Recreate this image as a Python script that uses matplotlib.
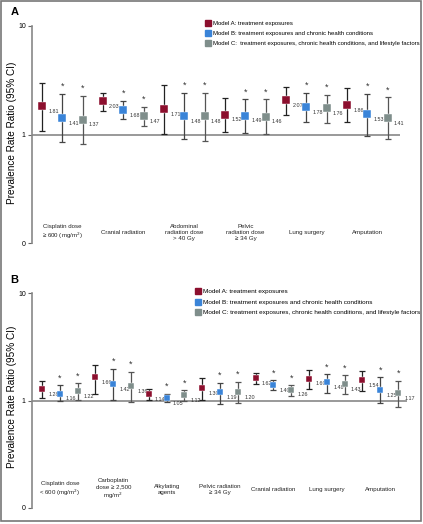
import numpy as np
import matplotlib
matplotlib.use('Agg')
import matplotlib.pyplot as plt
from matplotlib.lines import Line2D
from matplotlib.patches import Rectangle

plt.rcParams['font.family'] = ['Liberation Sans', 'DejaVu Sans']

# Panel A data (model A, B, C per exposure)
cats_a = ['Cisplatin dose\n\u2265 600 (mg/m$^2$)', 'Cranial radiation',
          'Abdominal\nradiation dose\n> 40 Gy', 'Pelvic\nradiation dose\n\u2265 34 Gy',
          'Lung surgery', 'Amputation']
est_a = [1.81, 1.41, 1.37, 2.03, 1.68, 1.47, 1.71, 1.48, 1.48,
         1.52, 1.49, 1.46, 2.07, 1.78, 1.76, 1.86, 1.53, 1.41]
lo_a = [1.08, 0.86, 0.82, 1.66, 1.40, 1.20, 1.02, 0.90, 0.88,
        1.06, 1.04, 1.02, 1.51, 1.30, 1.28, 1.31, 0.97, 0.90]
hi_a = [2.97, 2.36, 2.28, 2.42, 2.05, 1.80, 2.83, 2.42, 2.42,
        2.17, 2.11, 2.11, 2.75, 2.41, 2.32, 2.66, 2.37, 2.20]

# Panel B data
cats_b = ['Cisplatin dose\n< 600 (mg/m$^2$)', 'Carboplatin\ndose \u2265 2,500\nmg/m$^2$',
          'Alkylating\nagents', 'Pelvic radiation\n\u2265 34 Gy', 'Cranial radiation',
          'Lung surgery', 'Amputation']
est_b = [1.28, 1.16, 1.22, 1.66, 1.42, 1.36, 1.14, 1.05, 1.12, 1.30, 1.19, 1.20,
         1.62, 1.40, 1.26, 1.60, 1.48, 1.43, 1.54, 1.25, 1.17]
lo_b = [1.06, 0.98, 1.01, 1.14, 1.01, 0.96, 1.01, 0.97, 1.00, 1.02, 0.93, 0.94,
        1.43, 1.24, 1.10, 1.29, 1.18, 1.16, 1.22, 0.94, 0.87]
hi_b = [1.53, 1.39, 1.44, 2.12, 1.97, 1.86, 1.28, 1.15, 1.24, 1.61, 1.47, 1.50,
        1.81, 1.55, 1.38, 1.91, 1.75, 1.72, 1.88, 1.65, 1.53]

models = ['Model A: treatment exposures',
          'Model B: treatment exposures and chronic health conditions',
          'Model C:  treatment exposures, chronic health conditions, and lifestyle factors']
colors = ['#8c0f2e', '#3a84d8', '#7f8e8b']
bar_colors = ['#222222', '#444444', '#555555']

fig = plt.figure(figsize=(4.23, 5.24), dpi=100)
W, H = 423.0, 524.0


def panel(rect, cats, est, lo, hi, xlim, msize, label_y, legend_pos, legend_models, lfs):
    ax = fig.add_axes(rect)
    n = len(est)
    x = np.arange(n)
    ax.set_yscale('log')
    ax.set_ylim(0.1, 10)
    ax.set_xlim(*xlim)
    ax.axhline(1, color='#888888', lw=1.2, zorder=1)
    for i in range(n):
        m = i % 3
        ax.errorbar(x[i], est[i], yerr=[[est[i] - lo[i]], [hi[i] - est[i]]],
                    fmt='none', ecolor=bar_colors[m], elinewidth=0.9,
                    capsize=2, capthick=0.9, zorder=2)
        ax.plot(x[i], est[i], 's', color=colors[m], ms=msize, mec='white',
                mew=0.3, zorder=3)
        ax.annotate('%.2f' % est[i], (x[i], est[i]), xytext=(4.5, -2),
                    textcoords='offset points', fontsize=3.9, ha='left',
                    va='top', color='#333333')
        if m > 0:
            ax.annotate('*', (x[i], hi[i]), xytext=(0, 2),
                        textcoords='offset points', fontsize=6.5,
                        ha='center', va='bottom', color='#333333')
    for g, c in enumerate(cats):
        ax.text(3 * g + 1, label_y, c, transform=ax.get_xaxis_transform(),
                ha='center', va='center', fontsize=4.4, color='#222222',
                linespacing=1.25)
    ax.set_yticks([0.1, 1, 10])
    ax.set_yticklabels(['0', '1', '10'])
    ax.yaxis.set_minor_locator(matplotlib.ticker.NullLocator())
    ax.tick_params(axis='y', labelsize=5, length=3, width=0.8,
                   color='#666666', pad=1.5)
    ax.set_xticks([])
    for s in ['top', 'right', 'bottom']:
        ax.spines[s].set_visible(False)
    ax.spines['left'].set_color('#888888')
    ax.spines['left'].set_linewidth(1.2)
    handles = [Line2D([], [], marker='s', ls='none', color=colors[k], ms=5)
               for k in range(3)]
    ax.legend(handles, legend_models, loc='upper left',
              bbox_to_anchor=legend_pos, bbox_transform=fig.transFigure,
              frameon=False, fontsize=lfs, handlelength=0.6,
              handletextpad=0.5, labelspacing=0.75, borderpad=0,
              borderaxespad=0)
    return ax


ax_a = panel([32 / W, 1 - 243.3 / H, 368 / W, 217.6 / H], cats_a, est_a, lo_a,
             hi_a, (-0.49, 17.6), 5.6, 0.05, (206 / W, 1 - 21 / H), models, 4.35)
models_b = [models[0], models[1], models[2].replace('  ', ' ')]
ax_b = panel([32 / W, 1 - 508 / H, 375 / W, 215 / H], cats_b, est_b, lo_b,
             hi_b, (-0.56, 20.5), 4.6, 0.085, (196 / W, 1 - 289 / H), models_b, 4.6)

fig.text(11 / W, 1 - 15 / H, 'A', fontsize=8, fontweight='bold')
fig.text(10 / W, 1 - 283 / H, 'B', fontsize=8, fontweight='bold')
ylab = 'Prevalence Rate Ratio (95% CI)'
fig.text(12 / W, 1 - 133 / H, ylab, rotation=90, ha='center', va='center',
         fontsize=7.2, family=['Liberation Sans Narrow', 'Liberation Sans'])
fig.text(12 / W, 1 - 397 / H, ylab, rotation=90, ha='center', va='center',
         fontsize=7.2, family=['Liberation Sans Narrow', 'Liberation Sans'])

fig.patches.append(Rectangle((0.5 / W, 1 - 521 / H), 420.5 / W, 520 / H,
                             transform=fig.transFigure, fill=False,
                             ec='#777777', lw=1.2))

fig.savefig('out.png', dpi=100)
